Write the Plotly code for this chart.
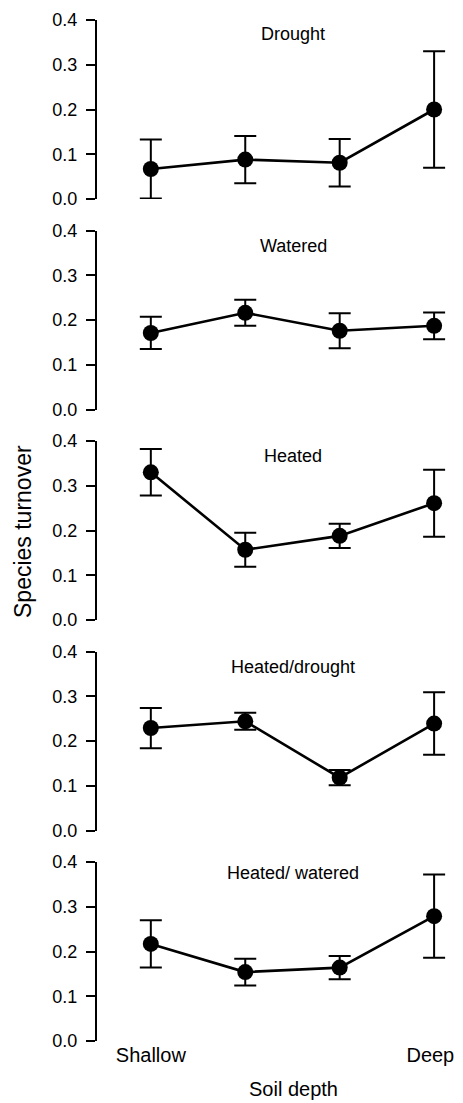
import plotly.graph_objects as go

depth_positions = [1, 2, 3, 4]
depth_tick_labels = ["Shallow", "Deep"]
depth_tick_positions = [1, 3.96]

panel_titles = ["Drought", "Watered", "Heated", "Heated/drought", "Heated/ watered"]

drought_mean = [0.067, 0.088, 0.081, 0.200]
drought_err = [0.066, 0.053, 0.053, 0.130]

watered_mean = [0.171, 0.216, 0.176, 0.187]
watered_err = [0.036, 0.029, 0.039, 0.030]

heated_mean = [0.330, 0.157, 0.188, 0.261]
heated_err = [0.052, 0.038, 0.027, 0.075]

heated_drought_mean = [0.229, 0.244, 0.118, 0.239]
heated_drought_err = [0.045, 0.019, 0.017, 0.070]

heated_watered_mean = [0.217, 0.154, 0.164, 0.279]
heated_watered_err = [0.053, 0.030, 0.026, 0.093]

means = [drought_mean, watered_mean, heated_mean, heated_drought_mean, heated_watered_mean]
errs = [drought_err, watered_err, heated_err, heated_drought_err, heated_watered_err]

y_ticks = [0.0, 0.1, 0.2, 0.3, 0.4]
y_tick_text = ["0.0", "0.1", "0.2", "0.3", "0.4"]

FONT = "Liberation Sans, Arial, sans-serif"
W, H = 463, 1103
ML, MT = 97, 20
MR = W - 453
MB = H - 1041
plot_w = W - ML - MR
plot_h = H - MT - MB
panel_h = 179
gap = (plot_h - 5 * panel_h) / 4
title_centers_px = [34, 246.5, 455.5, 666.5, 872.5]

fig = go.Figure()
layout = dict(
    width=W, height=H,
    margin=dict(l=ML, r=MR, t=MT, b=MB),
    paper_bgcolor="white", plot_bgcolor="white",
    showlegend=False,
    font=dict(family=FONT, color="black"),
    annotations=[],
)

for i in range(5):
    n = i + 1
    xa = "x" if n == 1 else f"x{n}"
    ya = "y" if n == 1 else f"y{n}"
    top_px = i * (panel_h + gap)
    d_top = 1 - top_px / plot_h
    d_bot = 1 - (top_px + panel_h) / plot_h
    fig.add_trace(go.Scatter(
        x=depth_positions, y=means[i],
        mode="lines+markers",
        line=dict(color="black", width=2.6),
        marker=dict(color="black", size=16),
        error_y=dict(type="data", array=errs[i], visible=True,
                     color="black", thickness=2, width=11),
        xaxis=xa, yaxis=ya, cliponaxis=False,
    ))
    xkey = "xaxis" if n == 1 else f"xaxis{n}"
    ykey = "yaxis" if n == 1 else f"yaxis{n}"
    layout[xkey] = dict(
        domain=[0, 1], range=[0.43, 4.2], anchor=ya,
        showline=False, showgrid=False, zeroline=False, ticks="",
        showticklabels=(n == 5), ticklabeloverflow="allow",
        tickmode="array", tickvals=depth_tick_positions, ticktext=depth_tick_labels,
        tickfont=dict(size=20, family=FONT, color="black"),
    )
    if n != 1:
        layout[xkey]["matches"] = "x"
    layout[ykey] = dict(
        domain=[d_bot, d_top], range=[0, 0.4], anchor=xa,
        showline=True, linecolor="black", linewidth=2,
        showgrid=False, zeroline=False,
        ticks="outside", ticklen=9, tickwidth=2, tickcolor="black",
        ticklabelstandoff=5,
        tickmode="array", tickvals=y_ticks, ticktext=y_tick_text,
        tickfont=dict(size=18, family=FONT, color="black"),
    )
    layout["annotations"].append(dict(
        text=panel_titles[i], xref="paper", yref="paper",
        x=(293 - ML) / plot_w, y=(1041 - title_centers_px[i]) / plot_h,
        xanchor="center", yanchor="middle", showarrow=False,
        font=dict(size=18, family=FONT, color="black"),
    ))

layout["annotations"].append(dict(
    text="Species turnover", xref="paper", yref="paper",
    x=(23 - ML) / plot_w, y=(1041 - 532) / plot_h,
    xanchor="center", yanchor="middle", textangle=-90, showarrow=False,
    font=dict(size=23, family=FONT, color="black"),
))
layout["annotations"].append(dict(
    text="Soil depth", xref="paper", yref="paper",
    x=(293 - ML) / plot_w, y=-(1089 - 1041) / plot_h,
    xanchor="center", yanchor="middle", showarrow=False,
    font=dict(size=20, family=FONT, color="black"),
))

fig.update_layout(**layout)
fig.write_html(
    "out.html",
    config={"displayModeBar": False},
    post_script="document.body.style.margin='0';document.body.style.overflow='hidden';",
)
